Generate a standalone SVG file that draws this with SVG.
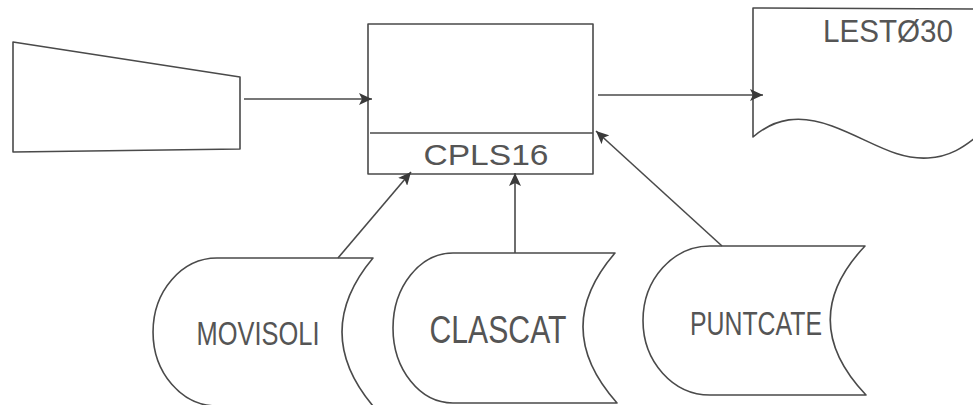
<svg xmlns="http://www.w3.org/2000/svg" width="973" height="405" viewBox="0 0 973 405">
  <style>
    .shape { fill: #ffffff; stroke: #4a4a4a; stroke-width: 1.6; stroke-linejoin: round; }
    .line { fill: none; stroke: #4a4a4a; stroke-width: 1.6; }
    .label { font-family: "Liberation Sans", "DejaVu Sans", sans-serif; fill: #555555; font-weight: normal; }
  </style>
  <defs>
    <marker id="arrow" markerUnits="userSpaceOnUse" markerWidth="14" markerHeight="12" refX="13" refY="6" orient="auto">
      <path d="M0,0 L13,6 L0,12 L3,6 Z" fill="#3a3a3a"/>
    </marker>
  </defs>
  <rect width="973" height="405" fill="#ffffff"/>

  <!-- manual input -->
  <g id="manual-input">
    <path class="shape" d="M13,42 L240,77 L240,149 L13,152 Z"/>
  </g>

  <!-- process CPLS16 -->
  <g id="process-cpls16">
    <rect class="shape" x="368" y="24" width="225" height="150"/>
    <line class="line" x1="370" y1="133" x2="593" y2="133"/>
    <text class="label" x="486" y="165" font-size="30" text-anchor="middle" textLength="125" lengthAdjust="spacingAndGlyphs">CPLS16</text>
  </g>

  <!-- printed report LESTØ30 -->
  <g id="report-lest030">
    <path class="shape" d="M753,8 L975,9 L975,138 C965,146 950,157 928,158 C895,160 870,140 832,126 C800,114 775,118 753,137 Z"/>
    <text class="label" x="888" y="42" font-size="32" text-anchor="middle" textLength="130" lengthAdjust="spacingAndGlyphs">LESTØ30</text>
  </g>

  <!-- stored data MOVISOLI -->
  <g id="file-movisoli">
    <path class="shape" d="M217,258 L373,258 Q311,332 373,406 L217,406 A64,74 0 0 1 217,258 Z"/>
    <text class="label" x="258" y="345" font-size="33" text-anchor="middle" textLength="123" lengthAdjust="spacingAndGlyphs">MOVISOLI</text>
  </g>

  <!-- stored data CLASCAT -->
  <g id="file-clascat">
    <path class="shape" d="M453,253 L615,253 Q550,328 617,403 L453,403 A60,75 0 0 1 453,253 Z"/>
    <text class="label" x="498" y="343" font-size="38" text-anchor="middle" textLength="137" lengthAdjust="spacingAndGlyphs">CLASCAT</text>
  </g>

  <!-- stored data PUNTCATE -->
  <g id="file-puntcate">
    <path class="shape" d="M710,246 L865,246 Q795,320 866,395 L710,395 A67,74.5 0 0 1 710,246 Z"/>
    <text class="label" x="756" y="335" font-size="34" text-anchor="middle" textLength="132" lengthAdjust="spacingAndGlyphs">PUNTCATE</text>
  </g>

  <!-- connectors -->
  <g id="connectors">
    <line class="line" x1="244" y1="99" x2="372" y2="99" marker-end="url(#arrow)"/>
    <line class="line" x1="598" y1="95" x2="763" y2="95" marker-end="url(#arrow)"/>
    <line class="line" x1="338" y1="258" x2="411" y2="172" marker-end="url(#arrow)"/>
    <line class="line" x1="515" y1="253" x2="515" y2="173" marker-end="url(#arrow)"/>
    <line class="line" x1="722" y1="246" x2="596" y2="131" marker-end="url(#arrow)"/>
  </g>
</svg>
